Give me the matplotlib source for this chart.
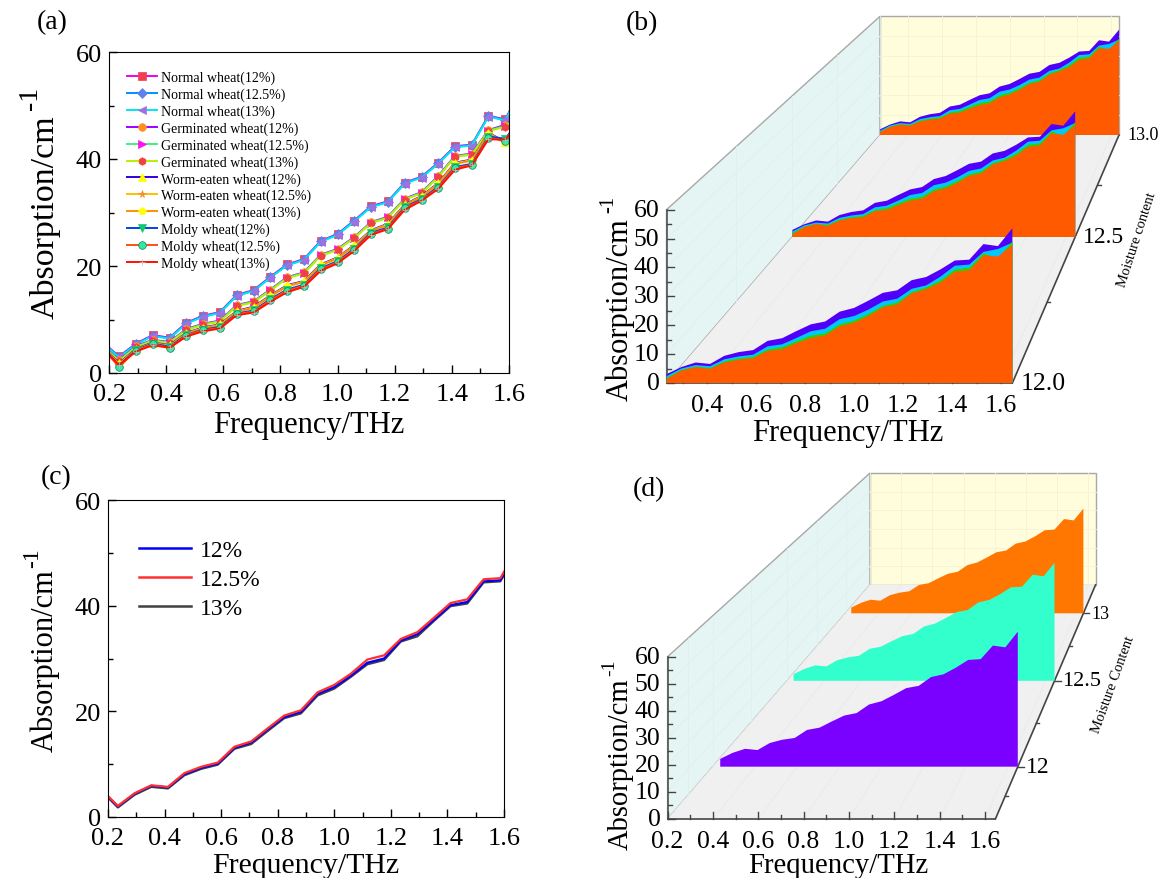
import matplotlib
matplotlib.use('Agg')
import matplotlib.pyplot as plt
from matplotlib.ticker import MultipleLocator, FormatStrFormatter

plt.rcParams['font.family'] = ['Liberation Serif', 'DejaVu Serif']

# frequency grid of the measured spectra
freq = [0.176, 0.235, 0.294, 0.353, 0.412, 0.47, 0.529, 0.588, 0.647, 0.706, 0.765, 0.823, 0.882,
        0.941, 1.0, 1.058, 1.117, 1.176, 1.235, 1.294, 1.352, 1.411, 1.47, 1.528, 1.587, 1.646]

# panel (a) + (b) + (d)
normal_12 = [5.9, 3.1, 5.5, 7.1, 6.6, 9.4, 10.7, 11.4, 14.6, 15.5, 18.0, 20.3, 21.3, 24.7, 26.0, 28.5, 31.2, 32.1, 35.6, 36.7, 39.3, 42.4, 42.7, 48.1, 47.4, 53.6]
normal_125 = [5.8, 3.0, 5.4, 7.0, 6.5, 9.3, 10.6, 11.3, 14.5, 15.4, 17.9, 20.2, 21.2, 24.6, 25.9, 28.4, 31.1, 32.0, 35.5, 36.6, 39.2, 42.3, 42.6, 48.0, 47.3, 53.4]
normal_13 = [5.7, 2.9, 5.3, 6.9, 6.4, 9.2, 10.5, 11.2, 14.4, 15.3, 17.8, 20.1, 21.1, 24.5, 25.8, 28.3, 31.0, 31.9, 35.4, 36.5, 39.1, 42.2, 42.5, 47.9, 47.2, 53.2]
germ_12 = [5.3, 2.4, 5.0, 6.2, 5.8, 8.2, 9.2, 9.8, 12.7, 13.4, 15.6, 17.9, 18.8, 22.1, 23.2, 25.4, 28.2, 29.2, 32.6, 33.8, 36.8, 40.6, 41.0, 45.4, 46.4, 48.6]
germ_125 = [5.2, 2.3, 4.9, 6.1, 5.7, 8.1, 9.1, 9.7, 12.6, 13.3, 15.5, 17.8, 18.7, 22.0, 23.1, 25.3, 28.1, 29.1, 32.5, 33.7, 36.7, 40.5, 40.9, 45.3, 46.2, 48.4]
germ_13 = [5.1, 2.2, 4.8, 6.0, 5.6, 8.0, 9.0, 9.6, 12.5, 13.2, 15.4, 17.7, 18.6, 21.9, 23.0, 25.2, 28.0, 29.0, 32.4, 33.6, 36.6, 40.4, 40.8, 45.2, 46.0, 48.2]
worm_12 = [5.0, 1.8, 4.5, 5.7, 5.2, 7.5, 8.5, 9.1, 11.6, 12.4, 14.5, 16.4, 17.2, 20.3, 21.6, 23.9, 26.7, 27.9, 31.5, 33.1, 35.5, 39.3, 39.9, 44.9, 43.2, 49.0]
worm_125 = [4.9, 1.7, 4.4, 5.6, 5.1, 7.4, 8.4, 9.0, 11.5, 12.3, 14.4, 16.3, 17.1, 20.2, 21.5, 23.8, 26.6, 27.8, 31.4, 33.0, 35.4, 39.2, 39.8, 44.8, 43.1, 48.8]
worm_13 = [4.9, 1.6, 4.3, 5.5, 5.0, 7.3, 8.3, 8.9, 11.4, 12.2, 14.3, 16.2, 17.0, 20.1, 21.4, 23.7, 26.5, 27.7, 31.3, 32.9, 35.3, 39.1, 39.7, 44.7, 43.0, 48.6]
moldy_12 = [4.9, 1.4, 4.3, 5.5, 4.9, 7.1, 8.1, 8.6, 11.1, 11.7, 13.8, 15.6, 16.5, 19.6, 20.9, 23.2, 26.2, 27.2, 31.0, 32.5, 34.8, 38.5, 39.1, 44.2, 43.8, 47.8]
moldy_125 = [4.8, 1.1, 4.2, 5.4, 4.7, 7.0, 8.0, 8.4, 11.0, 11.5, 13.6, 15.4, 16.3, 19.4, 20.7, 23.0, 26.0, 27.0, 30.8, 32.3, 34.6, 38.3, 38.9, 44.0, 43.4, 47.5]
moldy_13 = [4.7, 1.5, 4.0, 5.2, 4.7, 6.8, 7.8, 8.3, 10.8, 11.3, 13.3, 15.1, 16.1, 19.1, 20.5, 22.8, 25.8, 26.9, 30.5, 32.2, 34.4, 38.0, 38.8, 43.7, 43.6, 47.5]

series_a = [normal_12, normal_125, normal_13, germ_12, germ_125, germ_13,
            worm_12, worm_125, worm_13, moldy_12, moldy_125, moldy_13]
labels_a = ['Normal wheat(12%)', 'Normal wheat(12.5%)', 'Normal wheat(13%)',
            'Germinated wheat(12%)', 'Germinated wheat(12.5%)', 'Germinated wheat(13%)',
            'Worm-eaten wheat(12%)', 'Worm-eaten wheat(12.5%)', 'Worm-eaten wheat(13%)',
            'Moldy wheat(12%)', 'Moldy wheat(12.5%)', 'Moldy wheat(13%)']
line_cols = ['#F000F0', '#0090FF', '#00E8F0', '#A000FF', '#40F080', '#B8F000',
             '#3000E0', '#FFC000', '#FF9000', '#0040F0', '#FF5010', '#FF1000']
mark_cols = ['#F04050', '#6080F0', '#A070E0', '#FF9020', '#FF10F0', '#F04040',
             '#FFFF00', '#F09030', '#FFFF00', '#10C870', '#30E8A0', '#C0C0C0']
markers = ['s', 'D', '<', 'o', '>', 'h', '^', '*', 'p', 'v', 'o', '+']

# panel (c)
mean_12 = [5.1, 2.0, 4.4, 5.9, 5.6, 8.1, 9.3, 10.1, 13.1, 14.1, 16.6, 18.9, 19.9, 23.3, 24.6, 26.7, 29.2, 30.0, 33.4, 34.6, 37.3, 40.1, 40.7, 44.6, 44.8, 50.2]
mean_125 = [5.2, 2.1, 4.5, 6.0, 5.7, 8.3, 9.5, 10.3, 13.3, 14.3, 16.8, 19.2, 20.2, 23.6, 25.0, 27.1, 29.8, 30.6, 33.7, 35.0, 37.7, 40.5, 41.2, 45.0, 45.2, 50.6]
mean_13 = [5.0, 1.8, 4.2, 5.7, 5.4, 7.9, 9.1, 9.9, 12.9, 13.8, 16.3, 18.7, 19.6, 23.0, 24.3, 26.5, 28.9, 29.7, 33.2, 34.2, 37.1, 39.9, 40.4, 44.4, 44.6, 50.0]
labels_c = ['12%', '12.5%', '13%']
cols_c = ['#0000FF', '#FF3030', '#404040']

fig = plt.figure(figsize=(11.61, 8.79), dpi=100)
W, H = 1161., 879.


def make_axes(left, right, top, bottom):
    ax = fig.add_axes([left / W, 1 - bottom / H, (right - left) / W, (bottom - top) / H])
    ax.set_xlim(0.2, 1.6)
    ax.set_ylim(0, 60)
    ax.xaxis.set_major_locator(MultipleLocator(0.2))
    ax.xaxis.set_minor_locator(MultipleLocator(0.1))
    ax.xaxis.set_major_formatter(FormatStrFormatter('%.1f'))
    ax.yaxis.set_major_locator(MultipleLocator(20))
    ax.yaxis.set_minor_locator(MultipleLocator(10))
    ax.tick_params(which='major', direction='in', length=6, width=1, labelsize=19)
    ax.tick_params(axis='x', which='major', pad=7)
    ax.tick_params(axis='y', which='major', pad=5)
    ax.tick_params(which='minor', direction='in', length=3.5, width=1)
    return ax


# (a)
ax_a = make_axes(109, 509, 53, 374)
for i in range(12):
    ax_a.plot(freq, series_a[i], color=line_cols[i], lw=1.4, marker=markers[i], ms=5.5 if i < 11 else 4,
              mfc=mark_cols[i], mec=mark_cols[i] if i != 10 else '#108060', mew=0.5, label=labels_a[i])
ax_a.legend(loc='upper left', bbox_to_anchor=(0.046, 0.943), frameon=False, fontsize=10, labelspacing=0.25,
            handlelength=2.15, handletextpad=0.25, borderpad=0, borderaxespad=0, numpoints=1)

# (c)
ax_c = make_axes(108, 504, 501, 818)
ax_c.plot(freq, mean_13, color=cols_c[2], lw=1.6)
ax_c.plot(freq, mean_12, color=cols_c[0], lw=1.6)
ax_c.plot(freq, mean_125, color=cols_c[1], lw=1.6)
for i, m in enumerate([mean_12, mean_125, mean_13]):
    ax_c.plot([], [], color=cols_c[i], lw=1.8, label=labels_c[i])
ax_c.legend(loc='upper left', bbox_to_anchor=(0.079, 0.876), frameon=False, fontsize=17, labelspacing=0.32,
            handlelength=2.2, handletextpad=0.35, borderpad=0, borderaxespad=0)

# overlay in image pixels, for the pseudo 3D panels and free text
ov = fig.add_axes([0, 0, 1, 1], zorder=5)
ov.set_xlim(0, W)
ov.set_ylim(H, 0)
ov.axis('off')
ov.patch.set_alpha(0)


def draw_wall(p, levels, ticklabs, xticks, xminor, depth_minor, lab, lab_xy, lab_rot, level_tick=6):
    fx, bx, fr, br, fy, by, ftop, btop, xmin, xmax = p

    def pt(f, v, d):
        l = fx + (bx - fx) * d
        r = fr + (br - fr) * d
        y0 = fy + (by - fy) * d
        s = ((fy - ftop) + ((by - btop) - (fy - ftop)) * d) / 60.
        return l + (f - xmin) / (xmax - xmin) * (r - l), y0 - v * s

    # walls and floor
    ov.fill(*zip(pt(xmin, 0, 0), pt(xmin, 60, 0), pt(xmin, 60, 1), pt(xmin, 0, 1)), fc='#E4F5F3', ec='#A8A8A8', lw=1)
    ov.fill(*zip(pt(xmin, 0, 1), pt(xmin, 60, 1), pt(xmax, 60, 1), pt(xmax, 0, 1)), fc='#FFFDDC', ec='#A8A8A8', lw=1)
    ov.fill(*zip(pt(xmin, 0, 0), pt(xmax, 0, 0), pt(xmax, 0, 1), pt(xmin, 0, 1)), fc='#F0F0F0', ec='none')

    # faint grid
    for v in range(10, 60, 10):
        ov.plot(*zip(pt(xmin, v, 1), pt(xmax, v, 1)), color='#F4F3D6', lw=0.6)
        ov.plot(*zip(pt(xmin, v, 0), pt(xmin, v, 1)), color='#DFF0EE', lw=0.6)
    for f in xticks:
        ov.plot(*zip(pt(f, 0, 1), pt(f, 60, 1)), color='#F4F3D6', lw=0.6)
        ov.plot(*zip(pt(f, 0, 0), pt(f, 0, 1)), color='#EAEAEA', lw=0.6)
    for d in list(levels) + depth_minor:
        ov.plot(*zip(pt(xmin, 0, d), pt(xmin, 60, d)), color='#DFF0EE', lw=0.6)

    # axes lines
    ov.plot(*zip(pt(xmin, 0, 0), pt(xmin, 60, 0)), color='#555555', lw=1.2)
    ov.plot(*zip(pt(xmin, 0, 0), pt(xmax, 0, 0)), color='#444444', lw=1.2)
    ov.plot(*zip(pt(xmax, 0, 0), pt(xmax, 0, 1)), color='#444444', lw=1.2)

    for v in range(0, 61, 10):
        x, y = pt(xmin, v, 0)
        ov.plot([x, x + 7], [y, y], color='#444444', lw=1)
        ov.text(x - 7, y, str(v), ha='right', va='center', fontsize=18.5)
    for v in range(5, 60, 10):
        x, y = pt(xmin, v, 0)
        ov.plot([x, x + 4], [y, y], color='#444444', lw=1)
    for f in xticks:
        x, y = pt(f, 0, 0)
        ov.plot([x, x], [y, y - 7], color='#444444', lw=1)
        ov.text(x, y + 22, '%.1f' % f, ha='center', va='center', fontsize=18.5)
    for f in xminor:
        x, y = pt(f, 0, 0)
        ov.plot([x, x], [y, y - 4], color='#444444', lw=1)

    for d, t, fs in zip(levels, ticklabs[0], ticklabs[1]):
        x, y = pt(xmax, 0, d)
        if level_tick:
            ov.plot([x, x + level_tick], [y, y], color='#444444', lw=1)
        ov.text(x + 8, y, t, ha='left', va='center', fontsize=fs)
    for d in depth_minor:
        x, y = pt(xmax, 0, d)
        ov.plot([x, x + 3], [y, y], color='#444444', lw=1)

    ov.text(lab_xy[0], lab_xy[1], lab, rotation=lab_rot, ha='center', va='center', fontsize=10.5,
            rotation_mode='anchor')
    return pt


def fill_curve(pt, vals, d, col, zo, xmin):
    xy = [pt(f, v, d) for f, v in zip(freq, vals) if f >= xmin]
    xy = [pt(xmin, 0, d)] + xy + [pt(freq[-1], 0, d)]
    ov.fill(*zip(*xy), fc=col, ec='none', zorder=zo)


# (b)
panel_b = (666.5, 880, 1012.4, 1119, 384, 136, 210.7, 17.3, 0.234, 1.646)
levels_b = [0, 0.589, 1]
pt_b = draw_wall(panel_b, levels_b, (['12.0', '12.5', '13.0'], [18.5, 17, 13]),
                 [0.4, 0.6, 0.8, 1.0, 1.2, 1.4, 1.6], [0.3, 0.5, 0.7, 0.9, 1.1, 1.3, 1.5],
                 [0.327, 0.8], 'Moisture content', (1137, 240), 72, level_tick=0)
b_layers = [(normal_12, germ_12, worm_12, moldy_12),
            (normal_125, germ_125, worm_125, moldy_125),
            (normal_13, germ_13, worm_13, moldy_13)]
b_cols = ['#5000F8', '#00C8FF', '#30D000', '#FF5A00']
for k in [2, 1, 0]:
    for j in range(4):
        fill_curve(pt_b, b_layers[k][j], levels_b[k], b_cols[j], 3 + (2 - k) + j * 0.1, 0.234)

# (d)
panel_d = (667.6, 870, 995.4, 1095.5, 820, 586, 657.7, 474, 0.2, 1.646)
levels_d = [0.2236, 0.5906, 0.879]
pt_d = draw_wall(panel_d, levels_d, (['12', '12.5', '13'], [17, 16, 13]),
                 [0.2, 0.4, 0.6, 0.8, 1.0, 1.2, 1.4, 1.6], [0.3, 0.5, 0.7, 0.9, 1.1, 1.3, 1.5],
                 [0.1, 0.41, 0.74], 'Moisture Content', (1113, 685), 70)
d_series = [normal_12, normal_125, normal_13]
d_cols = ['#7A00FF', '#33FFCC', '#FF7700']
for k in [2, 1, 0]:
    fill_curve(pt_d, d_series[k], levels_d[k], d_cols[k], 3 + (2 - k), 0.235)

# free text
for t, x, y in [('(a)', 52, 23), ('(b)', 642, 24), ('(c)', 56, 478), ('(d)', 649, 490)]:
    ov.text(x, y, t, ha='center', va='center', fontsize=20)
for x, y, fs in [(309, 426, 22), (848, 434, 22), (306, 866, 21.5), (838, 866, 20.7)]:
    ov.text(x, y, 'Frequency/THz', ha='center', va='center', fontsize=fs)
for x, y, fs in [(45, 217, 24.5), (620, 310, 22), (45, 661, 22), (621, 764, 20.6)]:
    ov.text(x, y, 'Absorption/cm', ha='center', va='center', rotation=90, fontsize=fs)
for x, y, fs in [(30, 98, 20), (609, 204, 15), (33, 558, 17), (610, 668, 14)]:
    ov.text(x, y, '-1', ha='center', va='center', rotation=90, fontsize=fs)

fig.savefig('out.png', dpi=100)
